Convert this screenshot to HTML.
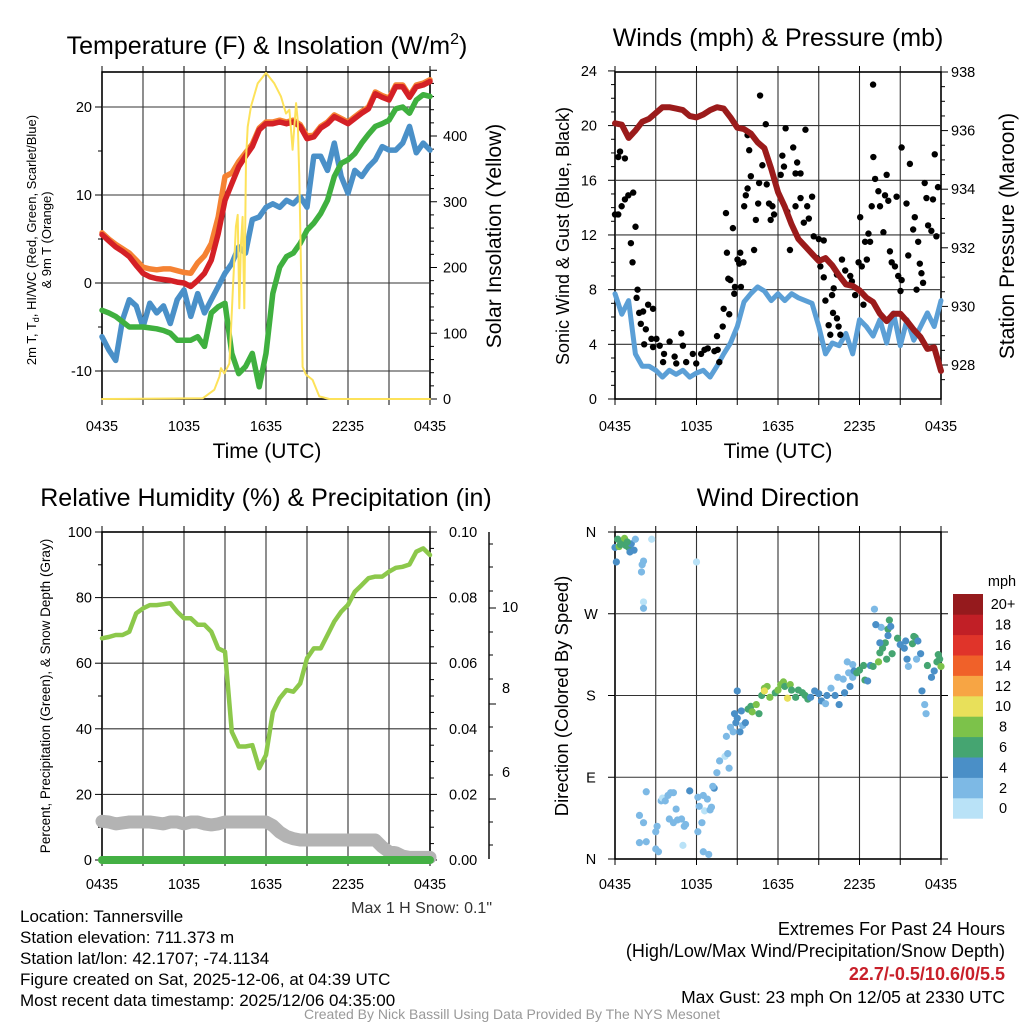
<!DOCTYPE html>
<html><head><meta charset="utf-8"><style>
html,body{margin:0;padding:0;background:#fff;}
svg{display:block;font-family:"Liberation Sans",Arial,sans-serif;}
</style></head><body>
<svg id="chart" width="1024" height="1024" viewBox="0 0 1024 1024">
<rect width="1024" height="1024" fill="#fff"/>
<g id="p1"></g>
<g id="p2"></g>
<g id="p3"></g>
<g id="p4"></g>

<text x="267" y="54" font-size="25" text-anchor="middle">Temperature (F) &amp; Insolation (W/m<tspan dy="-10" font-size="16">2</tspan><tspan dy="10">)</tspan></text>
<text x="778" y="46" font-size="25" text-anchor="middle">Winds (mph) &amp; Pressure (mb)</text>
<text x="266" y="506" font-size="25" text-anchor="middle">Relative Humidity (%) &amp; Precipitation (in)</text>
<text x="778" y="506" font-size="25" text-anchor="middle">Wind Direction</text>

<text x="267" y="458" font-size="21" text-anchor="middle">Time (UTC)</text>
<text x="778" y="458" font-size="21" text-anchor="middle">Time (UTC)</text>

<text transform="translate(36,240) rotate(-90)" font-size="13" text-anchor="middle">2m T, T<tspan dy="3" font-size="9">d</tspan><tspan dy="-3">, HI/WC (Red, Green, Scarlet/Blue)</tspan></text>
<text transform="translate(51,240) rotate(-90)" font-size="13" text-anchor="middle">&amp; 9m T (Orange)</text>
<text transform="translate(501,236) rotate(-90)" font-size="21" text-anchor="middle">Solar Insolation (Yellow)</text>
<text transform="translate(569,236) rotate(-90)" font-size="18" text-anchor="middle">Sonic Wind &amp; Gust (Blue, Black)</text>
<text transform="translate(1014,236) rotate(-90)" font-size="21" text-anchor="middle">Station Pressure (Maroon)</text>
<text transform="translate(50,696) rotate(-90)" font-size="13.5" text-anchor="middle">Percent, Precipitation (Green), &amp; Snow Depth (Gray)</text>
<text transform="translate(568,696) rotate(-90)" font-size="18.5" text-anchor="middle">Direction (Colored By Speed)</text>

<text x="492" y="913" font-size="16" text-anchor="end" fill="#333">Max 1 H Snow: 0.1"</text>

<g font-size="17">
<text x="20" y="922">Location: Tannersville</text>
<text x="20" y="943">Station elevation: 711.373 m</text>
<text x="20" y="964">Station lat/lon: 42.1707; -74.1134</text>
<text x="20" y="985">Figure created on Sat, 2025-12-06, at 04:39 UTC</text>
<text x="20" y="1006">Most recent data timestamp: 2025/12/06 04:35:00</text>
</g>
<g font-size="18" text-anchor="end">
<text x="1005" y="935">Extremes For Past 24 Hours</text>
<text x="1005" y="957">(High/Low/Max Wind/Precipitation/Snow Depth)</text>
<text x="1005" y="980" fill="#c8202a" font-weight="bold" font-size="18">22.7/-0.5/10.6/0/5.5</text>
<text x="1005" y="1003" font-size="17.5">Max Gust: 23 mph On 12/05 at 2330 UTC</text>
</g>
<text x="512" y="1019" font-size="14" text-anchor="middle" fill="#999">Created By Nick Bassill Using Data Provided By The NYS Mesonet</text>
</svg>
<script>
// ---------- DATA ----------
const halfHours=[0,0.5,1,1.5,2,2.5,3,3.5,4,4.5,5,5.5,6,6.5,7,7.5,8,8.5,9,9.5,10,10.5,11,11.5,12,12.5,13,13.5,14,14.5,15,15.5,16,16.5,17,17.5,18,18.5,19,19.5,20,20.5,21,21.5,22,22.5,23,23.5,24];
const timeTickLabels=["0435","1035","1635","2235","0435"];
const tempTicks=[-10,0,10,20];
const solarTicks=[0,100,200,300,400];
const windTicks=[0,4,8,12,16,20,24];
const pressTicks=[928,930,932,934,936,938];
const rhTicks=[0,20,40,60,80,100];
const precipTicks=["0.00","0.02","0.04","0.06","0.08","0.10"];
const snowAxisLabels=["10","8","6"];
const dirTickLabels=["N","E","S","W","N"];
const speedBinLabels=["0","2","4","6","8","10","12","14","16","18","20+"];

const temp2m=[5.5,4.8,4.1,3.6,3.0,2.0,1.1,0.7,0.5,0.4,0.3,0.1,0.0,-0.4,0.3,1.1,2.6,5.6,9.4,11.3,13.2,14.4,15.5,17.4,18.1,18.1,18.3,18.1,18.3,17.8,16.4,16.6,17.6,18.1,18.9,18.5,18.1,18.7,19.3,19.8,21.5,21.1,20.8,22.3,22.3,21.1,22.3,22.5,22.9];
const temp9m=[5.7,5.0,4.4,3.9,3.4,2.6,1.8,1.6,1.5,1.6,1.6,1.4,1.2,1.1,2.3,3.1,4.5,7.5,12.1,12.5,13.8,14.8,15.8,17.6,18.3,18.3,18.5,18.3,18.5,18.0,16.7,16.8,17.8,18.3,19.1,18.7,18.3,18.9,19.5,20.0,21.7,21.3,21.0,22.5,22.5,21.3,22.5,22.7,23.1];
const dewpoint=[-3.1,-3.4,-3.8,-4.4,-5.0,-5.0,-5.0,-5.1,-5.2,-5.4,-5.7,-6.5,-6.5,-6.5,-6.1,-7.2,-3.4,-2.7,-2.3,-8.0,-10.3,-9.5,-8.0,-11.8,-8.0,-1.2,1.8,3.0,3.4,4.5,6.0,6.8,7.9,9.4,12.1,13.6,14.0,14.7,15.9,16.9,17.8,18.1,18.5,19.8,20.0,19.3,20.8,21.4,21.2];
const windChill=[-6.1,-7.6,-8.8,-4.2,-1.9,-2.6,-5.0,-2.3,-3.4,-2.6,-4.6,-1.9,-0.8,-3.8,-1.2,-3.4,-1.9,-0.4,1.1,2.2,4.1,3.4,7.2,7.5,8.6,9.0,8.6,9.4,9.0,9.8,8.6,14.4,14.4,12.8,15.9,12.1,10.2,12.8,12.1,13.2,14.0,15.5,15.1,15.1,15.9,17.8,14.8,15.9,15.1];
const solarHours=[0,7.37,8.22,8.59,8.71,8.95,9.32,9.56,9.8,9.93,10.05,10.17,10.29,10.41,10.54,10.66,10.9,11.39,12,12.61,13.1,13.46,13.71,13.95,14.2,14.32,14.44,14.56,14.68,14.93,15.41,15.9,16.63,16.88,24];
const solarVals=[0,1,14,34,47,39,54,161,262,280,138,237,277,138,364,414,445,480,496,480,460,434,440,379,450,424,338,200,49,37,29,4,0,0,0];

const sonicWind=[7.7,6.2,7.2,3.3,2.4,2.4,2.1,1.6,2.1,1.8,2.1,1.6,1.9,2.1,1.6,2.4,3.3,4.1,5.3,7.1,7.7,8.2,7.9,7.2,7.7,7.2,7.7,7.4,7.2,7.0,5.3,3.3,4.1,3.9,4.8,3.3,5.8,5.3,4.6,5.8,4.1,6.3,3.9,5.8,4.3,5.3,6.3,5.3,7.2];
const pressure=[936.25,936.2,935.75,936.0,936.3,936.4,936.6,936.8,936.8,936.75,936.7,936.5,936.45,936.55,936.7,936.8,936.75,936.45,936.1,936.05,935.9,935.6,935.4,934.7,933.9,933.4,932.8,932.3,932.05,931.8,931.55,931.65,931.4,931.05,930.75,930.7,930.55,930.3,930.15,929.75,929.5,929.75,929.75,929.5,929.2,928.95,928.55,928.6,927.8];
const gustHours=[0,0.24,0.37,0.73,0.24,0.49,0.73,0.98,1.34,1.51,1.17,1.29,1.66,1.59,1.78,2.07,2.44,2.8,1.9,2.27,2.15,2.68,3.05,2.8,3.29,3.61,4.02,3.54,4.39,4.88,5.0,4.51,5.24,5.73,5.98,6.34,6.59,6.83,7.32,7.56,7.68,7.51,7.93,8.0,8.41,8.34,8.49,8.78,8.83,9.02,9.15,9.27,9.22,9.46,8.24,8.68,8.17,10.24,9.51,9.63,9.76,10.0,9.88,9.76,10.37,10.54,10.61,10.85,10.68,11.1,11.17,11.34,11.46,11.59,11.71,12.32,12.44,12.56,12.2,12.68,12.88,13.12,13.29,13.41,13.66,13.29,13.66,14.02,13.9,14.15,14.27,14.51,14.63,15.0,15.37,14.88,15.12,15.37,15.49,16.1,15.98,16.34,16.71,16.95,17.32,17.44,17.68,16.05,16.34,16.46,15.73,15.85,16.59,18.29,17.93,18.05,18.17,18.41,18.66,18.78,18.54,18.9,19.02,19.15,19.39,19.51,19.76,19.88,20.0,20.12,20.24,20.37,20.61,20.85,21.02,21.1,20.73,21.1,21.46,21.59,21.71,22.07,22.2,22.44,22.56,22.68,22.8,22.93,23.05,23.29,23.41,23.54,23.78,23.66,22.32,21.95,19.0];
const gustVals=[13.5,17.7,18.1,17.6,13.5,14.1,14.6,14.9,15.1,12.6,11.4,10.0,8.0,7.4,6.3,6.4,6.9,6.6,5.5,5.1,4.0,4.4,4.4,3.8,3.9,3.3,4.2,2.7,3.1,4.8,3.9,2.6,2.7,3.3,2.6,3.3,3.6,3.7,3.5,3.6,2.7,4.6,5.3,6.6,6.2,8.8,8.7,7.7,8.2,10.2,9.9,8.2,10.7,10.0,10.7,12.5,13.6,10.9,14.1,14.9,15.4,16.3,18.2,19.3,13.1,14.3,15.8,17.1,22.2,20.1,15.7,14.3,13.1,14.1,13.5,17.8,17.0,19.8,16.4,13.7,10.9,18.4,16.5,17.3,16.5,14.1,14.7,19.7,12.9,14.1,13.2,14.8,11.9,11.7,11.6,10.3,9.7,8.9,7.2,8.1,7.6,9.1,10.2,9.4,9.0,8.6,7.6,6.3,5.9,5.3,5.4,4.7,4.7,6.9,10.0,13.3,9.7,11.5,12.1,11.5,10.2,14.1,17.7,16.1,15.2,14.1,12.2,14.9,16.4,14.5,10.8,10.0,9.7,9.0,7.9,8.7,14.8,18.4,14.3,10.5,17.2,13.3,8.0,9.9,9.2,8.5,15.8,14.7,12.7,12.3,14.6,17.9,15.5,11.9,11.5,12.4,23.0];

const rhVals=[67.6,68,68.6,68.6,69.6,75.2,76.7,77.7,77.7,78,78.3,75.7,73.7,73.7,71.7,71.7,69.6,64.5,63.5,39.1,34.6,34.6,35,28,32,45,49.3,51.8,51.3,53.8,61.5,64.5,64.5,68.6,72.7,75.7,77.8,81.8,83.8,85.9,86.4,86.4,87.9,89.1,89.4,90.1,94,95,93];
const snowVals=[11.8,11.6,11.0,11.3,11.6,11.6,11.6,11.6,11.3,11.0,11.6,11.6,11.0,11.6,11.6,11.0,10.7,11.0,11.6,11.6,11.6,11.6,11.6,11.6,11.6,10.5,8.5,7.2,6.5,6.1,6.1,6.1,6.1,6.1,6.1,6.1,6.1,6.1,6.1,6.1,6.1,4.0,2.5,2.2,1.2,0.8,0.8,0.8,0.8];
const precipVals=[0,0,0,0,0,0,0,0,0,0,0,0,0,0,0,0,0,0,0,0,0,0,0,0,0,0,0,0,0,0,0,0,0,0,0,0,0,0,0,0,0,0,0,0,0,0,0,0,0];

const dirHours=[0.0,0.1,0.2,0.3,0.5,0.7,0.8,1.0,1.2,1.4,1.5,0.4,0.9,1.1,2.0,2.1,1.95,2.7,2.1,2.1,6.0,2.3,1.8,2.1,1.8,2.3,3.0,3.1,3.0,3.2,3.4,3.5,3.7,3.9,4.1,4.3,4.0,4.3,4.5,4.6,4.9,5.1,5.2,5.0,5.5,6.1,6.2,6.5,6.8,6.6,7.0,6.1,6.4,6.5,6.9,7.3,7.5,7.7,7.1,7.2,8.4,8.1,8.3,8.2,8.5,8.7,8.9,8.8,9.0,9.2,9.4,9.3,9.0,9.6,9.8,10.0,10.1,10.4,10.6,10.8,11.0,11.2,11.4,11.0,11.8,12.0,12.2,12.4,12.5,12.7,12.9,13.0,13.3,13.5,13.8,14.0,14.2,14.4,14.7,15.0,15.2,15.5,15.6,15.9,16.2,16.5,16.9,16.4,16.8,17.2,17.5,17.1,17.5,17.6,17.3,17.8,18.0,18.3,18.4,18.6,18.8,19.0,19.4,19.5,19.7,19.9,20.0,20.4,19.6,19.5,20.1,20.1,20.8,21.0,21.3,21.4,21.5,21.6,21.9,22.0,22.1,22.3,22.5,22.2,22.6,22.8,22.9,23.0,23.3,23.5,23.7,23.9,24.0,23.8,19.1,19.2,20.2,20.3];
const dirVals=[343,327,352,344,348,353,345,343,347,340,352,346,349,338,324,328,316,352,283,276,327,74,48,40,18,19,30,36,11,8,64,67,64,70,73,73,44,40,55,43,44,36,38,15,75,68,58,70,66,53,54,30,40,8,5,78,95,108,57,80,100,113,116,135,145,140,150,160,155,140,147,163,185,150,165,168,162,170,160,180,188,190,178,185,183,186,192,195,190,177,192,186,178,186,183,180,176,178,185,182,174,171,180,188,180,170,183,200,198,205,200,217,214,207,190,205,208,213,197,196,213,212,217,227,232,238,220,226,255,238,253,246,243,236,232,240,220,212,237,245,244,240,226,220,185,170,160,213,200,207,217,220,212,225,275,258,263,256];
const dirSpeeds=[4,4,6,8,6,8,6,6,4,4,2,6,7,4,2,2,2,1,0,2,0,2,2,2,2,2,2,2,2,2,2,0,2,2,2,2,2,2,2,2,2,2,2,0,4,2,2,2,2,0,2,2,2,2,2,4,2,2,2,2,2,0,2,2,2,2,4,4,4,4,2,4,4,4,6,6,8,8,6,6,8,8,8,10,6,8,8,8,6,10,8,6,6,6,6,6,6,4,4,4,4,2,4,2,4,4,4,2,2,2,2,2,2,4,4,6,6,6,6,4,4,6,8,6,6,6,6,6,2,4,6,4,6,4,4,4,4,2,6,6,6,4,4,2,4,2,2,6,4,4,6,6,8,6,2,4,6,4];
const speedColors=["#b9e2f7","#7db9e5","#4a8fc7","#45a571","#7cc24a","#e8e05a","#f7a544","#f06129","#e0342a","#c11f26","#951a1d"];

// ---------- AXES ----------
const NS="http://www.w3.org/2000/svg";
const L=102,R=430,L2=615,R2=941;
const x1=h=>L+h*(R-L)/24;
const x2=h=>L2+h*(R2-L2)/24;
const yT=v=>283-v*8.8;
const yS=w=>399-w*0.6575;
const yW=v=>399-v*13.67;
const yP=p=>72+(938-p)*29.3;
const yR=v=>860-v*3.28;
const yD=d=>859-d*327/360;

function mk(parent,tag,attrs){const e=document.createElementNS(NS,tag);for(const k in attrs)e.setAttribute(k,attrs[k]);parent.appendChild(e);return e;}
function ln(p,a,b,c,d,col,w){return mk(p,'line',{x1:a,y1:b,x2:c,y2:d,stroke:col,'stroke-width':w});}
function txt(p,x,y,s,anchor,size){const t=mk(p,'text',{x:x,y:y,'text-anchor':anchor,'font-size':size});t.textContent=s;return t;}
function poly(p,xs,ys,fx,fy,col,w){const pts=xs.map((h,i)=>fx(h).toFixed(1)+','+fy(ys[i]).toFixed(1)).join(' ');return mk(p,'polyline',{points:pts,fill:'none',stroke:col,'stroke-width':w,'stroke-linejoin':'round','stroke-linecap':'round'});}

function frame(g,xl,xr,yt,yb,fx,name){
  const gr=mk(g,'g',{});
  
  
  for(let h=3;h<24;h+=3){ln(gr,fx(h),yt,fx(h),yb,'#333',1.1);}
  for(let h=0;h<=24;h+=3){ln(gr,fx(h),yt,fx(h),yt-6,'#000',1);ln(gr,fx(h),yb,fx(h),yb+6,'#000',1);}
  const b=mk(g,'rect',{x:xl,y:yt,width:xr-xl,height:yb-yt,fill:'none',stroke:'#000','stroke-width':1.6});
  
  
}
function timeLabels(g,fx,y,name){
  timeTickLabels.forEach((s,i)=>{const t=txt(g,fx(i*6),y,s,'middle',14.5);
    
    });
}

// ---------- PANEL 1 ----------
const p1=document.getElementById('p1');
frame(p1,L,R,72,399,x1,'p1');
tempTicks.forEach(v=>{ln(p1,L,yT(v),R,yT(v),'#333',1.1);ln(p1,L,yT(v),L-7,yT(v),'#000',1);
  const t=txt(p1,92,yT(v)+5,String(v),'end',14.5);
  
  });
for(let v=-10;v<=20;v+=5){if(v%10)ln(p1,L,yT(v),L-4,yT(v),'#000',1);}
for(let w=0;w<=500;w+=20){ln(p1,R,yS(w),R+(w%100?4:7),yS(w),'#000',1);}
solarTicks.forEach(w=>{const t=txt(p1,443,yS(w)+5,String(w),'start',14.5);
  
  });
timeLabels(p1,x1,431,'p1');
let s;
s=poly(p1,halfHours,temp9m,x1,yT,'#f58233',5.5);


s=poly(p1,halfHours,temp2m,x1,yT,'#d42026',5.5);


s=poly(p1,halfHours,windChill,x1,yT,'#4a90c8',5.5);


s=poly(p1,halfHours,dewpoint,x1,yT,'#3fb03f',5.5);


s=poly(p1,solarHours,solarVals,x1,yS,'#fde25a',2);



// ---------- PANEL 2 ----------
const p2=document.getElementById('p2');
frame(p2,L2,R2,72,399,x2,'p2');
windTicks.forEach(v=>{if(v>0&&v<24)ln(p2,L2,yW(v),R2,yW(v),'#333',1.1);ln(p2,L2,yW(v),L2-7,yW(v),'#000',1);
  const t=txt(p2,597,yW(v)+5,String(v),'end',14.5);
  
  });
for(let v=1;v<24;v++){if(v%4)ln(p2,L2,yW(v),L2-4,yW(v),'#000',1);}
for(let p=927.5;p<=938;p+=0.5){ln(p2,R2,yP(p),R2+(p%2===0?7:4),yP(p),'#000',1);}
pressTicks.forEach(p=>{const t=txt(p2,951,yP(p)+5,String(p),'start',14.5);
  
  });
timeLabels(p2,x2,431,'p2');
s=poly(p2,halfHours,sonicWind,x2,yW,'#5b9fd6',5);


gustHours.forEach((h,i)=>{const c=mk(p2,'circle',{cx:x2(h),cy:yW(gustVals[i]),r:3.2,fill:'#000'});
  
  });
s=poly(p2,halfHours,pressure,x2,yP,'#9b1b1b',6);



// ---------- PANEL 3 ----------
const p3=document.getElementById('p3');
frame(p3,L,R,532,860,x1,'p3');
rhTicks.forEach((v,i)=>{if(v>0&&v<100)ln(p3,L,yR(v),R,yR(v),'#333',1.1);ln(p3,L,yR(v),L-7,yR(v),'#000',1);
  const t=txt(p3,92,yR(v)+5,String(v),'end',14.5);
  
  
  const t2=txt(p3,449,yR(v)+5,precipTicks[i],'start',14.5);
  
  });
for(let v=0;v<=100;v+=5){ln(p3,R,yR(v),R+(v%20?4:7),yR(v),'#000',1);if(v%20&&v%10===0)ln(p3,L,yR(v),L-4,yR(v),'#000',1);}
const sa=ln(p3,489,532,489,859,'#000',1.4);


[608,704,799].forEach(y=>ln(p3,489,y,496,y,'#000',1));
[544,567,591,632,655,679,727,751,775,822,845].forEach(y=>ln(p3,489,y,493,y,'#000',1));
snowAxisLabels.forEach((sl,i)=>{const t=txt(p3,502,[612,693,777][i],sl,'start',14.5);
  
  });
timeLabels(p3,x1,889,'p3');
s=poly(p3,halfHours,snowVals,x1,yR,'#b3b3b3',13);


s=poly(p3,halfHours,precipVals,x1,yR,'#44b044',8);


s=poly(p3,halfHours,rhVals,x1,yR,'#8cc84b',4.5);



// ---------- PANEL 4 ----------
const p4=document.getElementById('p4');
frame(p4,L2,R2,532,859,x2,'p4');
dirTickLabels.forEach((d,i)=>{const v=i*90;if(i>0&&i<4)ln(p4,L2,yD(v),R2,yD(v),'#333',1.1);ln(p4,L2,yD(v),L2-7,yD(v),'#000',1);
  ln(p4,R2,yD(v),R2+7,yD(v),'#000',1);
  const t=txt(p4,591,yD(v)+5,d,'middle',14.5);
  
  });
timeLabels(p4,x2,889,'p4');
dirHours.forEach((h,i)=>{const bin=Math.min(10,Math.floor(dirSpeeds[i]/2));
  const c=mk(p4,'circle',{cx:x2(h),cy:yD(dirVals[i]),r:3.6,fill:speedColors[bin]});
  
  });
// colorbar
const cb=mk(p4,'g',{});


const cbTop=594,cbH=20.4;
const cbt=txt(cb,1002,586,'mph','middle',14.5);


speedBinLabels.forEach((lab,i)=>{const j=10-i;const y=cbTop+j*cbH;
  const r=mk(cb,'rect',{x:953,y:y,width:30,height:cbH+0.3,fill:speedColors[i]});
  
  
  const t=txt(cb,1003,y+cbH/2+5,lab,'middle',14.5);
  
  });
</script>
</body></html>
